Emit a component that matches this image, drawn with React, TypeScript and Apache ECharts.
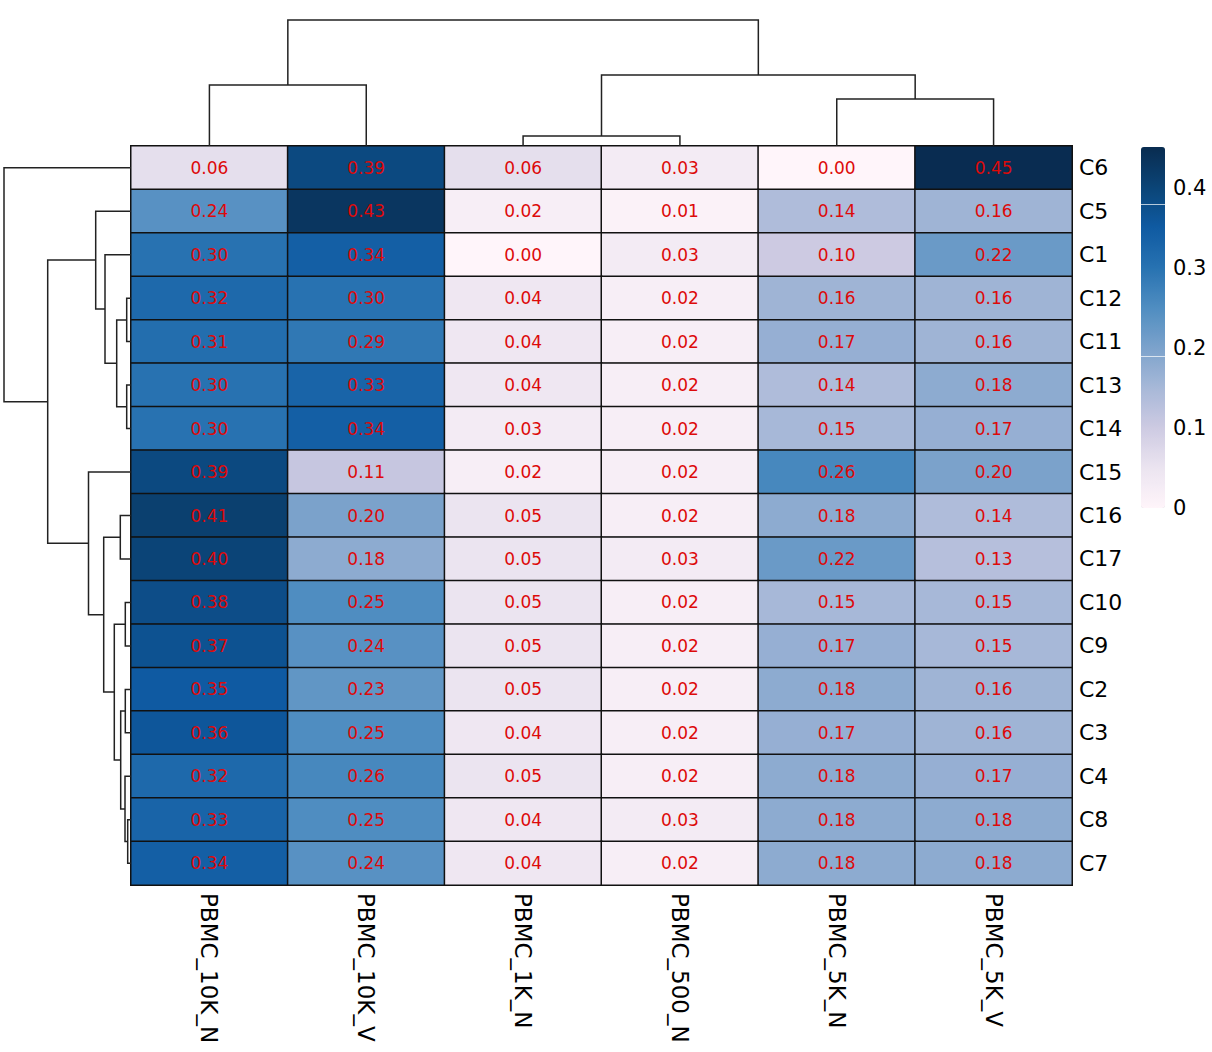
import React, { useEffect, useRef } from 'react';
import * as echarts from 'echarts';

const columns = ['PBMC_10K_N', 'PBMC_10K_V', 'PBMC_1K_N', 'PBMC_500_N', 'PBMC_5K_N', 'PBMC_5K_V'];
const rows = ['C6', 'C5', 'C1', 'C12', 'C11', 'C13', 'C14', 'C15', 'C16', 'C17', 'C10', 'C9', 'C2', 'C3', 'C4', 'C8', 'C7'];

const v_C6 = [0.06, 0.39, 0.06, 0.03, 0.0, 0.45];
const v_C5 = [0.24, 0.43, 0.02, 0.01, 0.14, 0.16];
const v_C1 = [0.3, 0.34, 0.0, 0.03, 0.1, 0.22];
const v_C12 = [0.32, 0.3, 0.04, 0.02, 0.16, 0.16];
const v_C11 = [0.31, 0.29, 0.04, 0.02, 0.17, 0.16];
const v_C13 = [0.3, 0.33, 0.04, 0.02, 0.14, 0.18];
const v_C14 = [0.3, 0.34, 0.03, 0.02, 0.15, 0.17];
const v_C15 = [0.39, 0.11, 0.02, 0.02, 0.26, 0.2];
const v_C16 = [0.41, 0.2, 0.05, 0.02, 0.18, 0.14];
const v_C17 = [0.4, 0.18, 0.05, 0.03, 0.22, 0.13];
const v_C10 = [0.38, 0.25, 0.05, 0.02, 0.15, 0.15];
const v_C9 = [0.37, 0.24, 0.05, 0.02, 0.17, 0.15];
const v_C2 = [0.35, 0.23, 0.05, 0.02, 0.18, 0.16];
const v_C3 = [0.36, 0.25, 0.04, 0.02, 0.17, 0.16];
const v_C4 = [0.32, 0.26, 0.05, 0.02, 0.18, 0.17];
const v_C8 = [0.33, 0.25, 0.04, 0.03, 0.18, 0.18];
const v_C7 = [0.34, 0.24, 0.04, 0.02, 0.18, 0.18];
const values = [v_C6, v_C5, v_C1, v_C12, v_C11, v_C13, v_C14, v_C15, v_C16, v_C17, v_C10, v_C9, v_C2, v_C3, v_C4, v_C8, v_C7];

// Linkage: [childA, childB, height]; '#k' refers to the k-th merge
const rowMerges: [string, string, number][] = [
  ['C12', 'C11', 4.3],
  ['C13', 'C14', 4.3],
  ['#0', '#1', 14.3],
  ['C1', '#2', 26],
  ['C5', '#3', 35.3],
  ['C16', 'C17', 10.7],
  ['C10', 'C9', 5.7],
  ['C2', 'C3', 5.7],
  ['C8', 'C7', 3.3],
  ['C4', '#8', 6],
  ['#7', '#9', 10.3],
  ['#6', '#10', 16.7],
  ['#5', '#11', 27.3],
  ['C15', '#12', 42.5],
  ['#4', '#13', 83.3],
  ['C6', '#14', 127],
];
const colMerges: [string, string, number][] = [
  ['PBMC_1K_N', 'PBMC_500_N', 10],
  ['PBMC_5K_N', 'PBMC_5K_V', 47],
  ['#0', '#1', 71],
  ['PBMC_10K_N', 'PBMC_10K_V', 61],
  ['#3', '#2', 126],
];

const colorMin = 0;
const colorMax = 0.451;
const colorbarTicks = [0, 0.1, 0.2, 0.3, 0.4];
const colorbarBreaks = [0.1875, 0.384];
const palette = ['#fff5fa', '#ebe4f0', '#cdcae2', '#a7b8d8', '#7ba2cb', '#4f8dc1', '#2772b1', '#0f5aa2', '#0b4476', '#092c50'];

function layoutDendro(leaves: string[], merges: [string, string, number][]) {
  const pos: Record<string, number> = {};
  const ht: Record<string, number> = {};
  leaves.forEach((l, i) => {
    pos[l] = i + 0.5;
    ht[l] = 0;
  });
  return merges.map(([a, b, h], k) => {
    const id = '#' + k;
    pos[id] = (pos[a] + pos[b]) / 2;
    ht[id] = h;
    return [pos[a], pos[b], h, ht[a], ht[b]];
  });
}

const FONT = 'DejaVu Sans';
const LINE = { stroke: '#222', lineWidth: 1.5, fill: 'none' };

export default function App() {
  const ref = useRef<HTMLDivElement>(null);
  useEffect(() => {
    if (!ref.current) return;
    const chart = echarts.init(ref.current, null, { renderer: 'svg' });
    const heatData: number[][] = [];
    values.forEach((row, r) => row.forEach((v, c) => heatData.push([c, r, v])));
    const topLinks = layoutDendro(columns, colMerges);
    const leftLinks = layoutDendro(rows, rowMerges);

    const option: any = {
      animation: false,
      backgroundColor: '#fff',
      grid: [
        { left: 131, top: 146, width: 941, height: 739 },
        { left: 131, top: 0, width: 941, height: 146 },
        { left: 0, top: 146, width: 131, height: 739 },
        { left: 1141, top: 147, width: 24, height: 361 },
      ],
      xAxis: [
        {
          type: 'category', gridIndex: 0, data: columns, position: 'bottom',
          axisLine: { show: false }, axisTick: { show: false }, splitLine: { show: false },
          axisLabel: { rotate: -90, margin: 8, fontSize: 23, color: '#000', fontFamily: FONT, interval: 0 },
        },
        { type: 'value', gridIndex: 1, min: 0, max: columns.length, show: false },
        { type: 'value', gridIndex: 2, min: 0, max: 131, inverse: true, show: false },
        { type: 'value', gridIndex: 3, min: 0, max: 1, show: false },
      ],
      yAxis: [
        {
          type: 'category', gridIndex: 0, data: rows, inverse: true, position: 'right',
          axisLine: { show: false }, axisTick: { show: false }, splitLine: { show: false },
          axisLabel: { margin: 7, fontSize: 22, color: '#000', fontFamily: FONT, interval: 0 },
        },
        { type: 'value', gridIndex: 1, min: 0, max: 146, show: false },
        { type: 'value', gridIndex: 2, min: 0, max: rows.length, inverse: true, show: false },
        {
          type: 'value', gridIndex: 3, min: colorMin, max: colorMax, interval: 0.1, position: 'right',
          axisLine: { show: false }, axisTick: { show: false }, splitLine: { show: false },
          axisLabel: {
            margin: 8, fontSize: 21, color: '#000', fontFamily: FONT, showMaxLabel: false,
            formatter: (v: number) => (colorbarTicks.some((t) => Math.abs(t - v) < 1e-6) ? (v === 0 ? '0' : v.toFixed(1)) : ''),
          },
        },
      ],
      visualMap: {
        type: 'continuous', min: colorMin, max: colorMax, seriesIndex: 0,
        left: 1141, top: 147, itemWidth: 24, itemHeight: 361, padding: 0,
        calculable: false, text: null, showLabel: false, hoverLink: false,
        inRange: { color: palette },
      },
      series: [
        {
          type: 'heatmap', xAxisIndex: 0, yAxisIndex: 0, data: heatData,
          itemStyle: { borderColor: '#111', borderWidth: 1.5 },
          label: {
            show: true, fontSize: 17, fontFamily: FONT, color: '#dd0a0a',
            formatter: (p: any) => p.value[2].toFixed(2),
          },
          emphasis: { disabled: true },
        },
        {
          type: 'custom', xAxisIndex: 1, yAxisIndex: 1, data: topLinks, silent: true,
          renderItem: (params: any, api: any) => {
            const a0 = api.coord([api.value(0), api.value(3)]);
            const a1 = api.coord([api.value(0), api.value(2)]);
            const b1 = api.coord([api.value(1), api.value(2)]);
            const b0 = api.coord([api.value(1), api.value(4)]);
            return { type: 'polyline', shape: { points: [a0, a1, b1, b0] }, style: LINE };
          },
        },
        {
          type: 'custom', xAxisIndex: 2, yAxisIndex: 2, data: leftLinks, silent: true,
          renderItem: (params: any, api: any) => {
            const a0 = api.coord([api.value(3), api.value(0)]);
            const a1 = api.coord([api.value(2), api.value(0)]);
            const b1 = api.coord([api.value(2), api.value(1)]);
            const b0 = api.coord([api.value(4), api.value(1)]);
            return { type: 'polyline', shape: { points: [a0, a1, b1, b0] }, style: LINE };
          },
        },
        {
          type: 'line', xAxisIndex: 3, yAxisIndex: 3, data: [], z: 10, silent: true,
          markLine: {
            silent: true, symbol: 'none', z: 10, label: { show: false },
            lineStyle: { color: 'rgba(255,255,255,0.7)', width: 1, type: 'solid' },
            data: colorbarBreaks.map((b) => ({ yAxis: b })),
          },
        },
      ],
    };
    chart.setOption(option);
    return () => chart.dispose();
  }, []);
  return <div ref={ref} style={{ position: 'fixed', left: 0, top: 0, width: 1212, height: 1052 }} />;
}
